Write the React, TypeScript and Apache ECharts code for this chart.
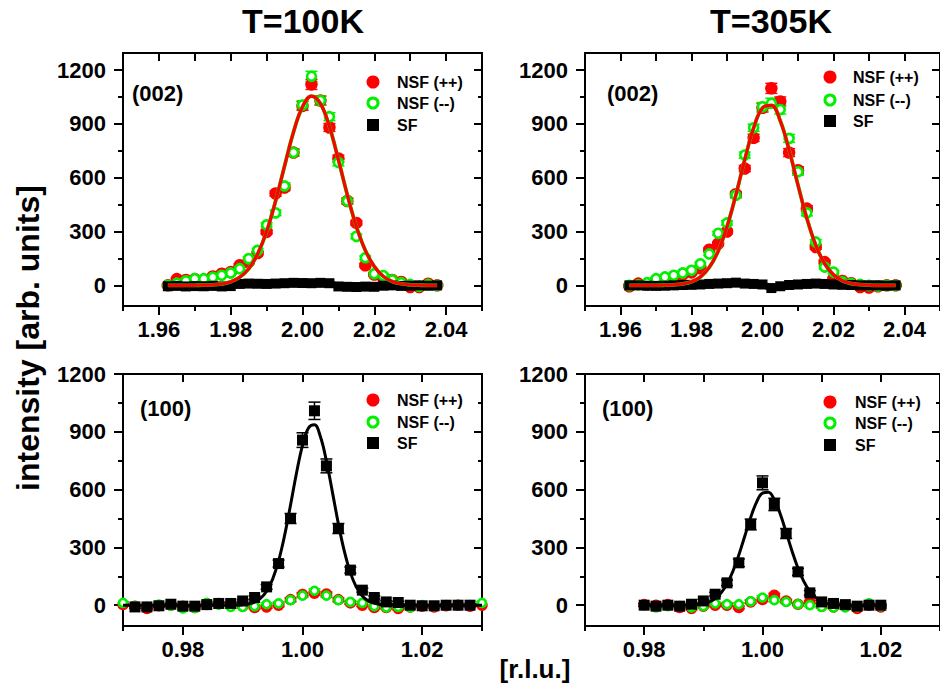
import React, { useEffect, useRef } from 'react';
import * as echarts from 'echarts';

const FONT = '"Liberation Sans", Arial, Helvetica, sans-serif';
const RED = '#ff0000';
const GREEN = '#00f000';
const BLACK = '#000000';

// ---------- tick labels ----------
const xTicksTop = [1.96, 1.98, 2.0, 2.02, 2.04];
const xMinorTop = [1.95, 1.97, 1.99, 2.01, 2.03, 2.05];
const xTicksBot = [0.98, 1.0, 1.02];
const xMinorBot = [0.97, 0.99, 1.01, 1.03];
const yTicks = [0, 300, 600, 900, 1200];
const yMinor = [150, 450, 750, 1050];

// ---------- (002) scans, both temperatures ----------
const xTop = [1.9625, 1.965, 1.9675, 1.97, 1.9725, 1.975, 1.9775, 1.98, 1.9825, 1.985, 1.9875, 1.99, 1.9925, 1.995, 1.9975, 2.0, 2.0025, 2.005, 2.0075, 2.01, 2.0125, 2.015, 2.0175, 2.02, 2.0225, 2.025, 2.0275, 2.03, 2.0325, 2.035, 2.0375];

// T=100K (002)
const nsfPlusTL = [0, 35, 30, 35, 28, 50, 65, 74, 112, 130, 180, 298, 512, 545, 740, 1000, 1120, 1030, 880, 707, 470, 348, 112, 60, 40, 30, 19, -9, -9, 9, 0];
const nsfMinusTL = [0, 12, 25, 37, 37, 45, 56, 69, 93, 149, 195, 337, 404, 554, 740, 1005, 1165, 1030, 940, 685, 470, 273, 154, 65, 55, 30, 15, 5, -5, 5, 0];
const sfTL = [-5, -3, -6, -4, -5, -3, -6, -4, 8, 10, 9, 8, 10, 12, 14, 13, 12, 14, 12, -6, -8, -9, -7, -8, -2, 0, -3, -2, 0, -2, 0];
const fitTL = [0, 0, 0, 0.5, 1, 3, 8, 20, 45, 92, 175, 300, 470, 665, 855, 995, 1055, 1013, 885, 700, 503, 328, 195, 105, 50, 22, 9, 3, 1, 0, 0];

// T=305K (002)
const nsfPlusTR = [-5, 10, 5, 12, 22, 50, 60, 72, 95, 199, 232, 300, 508, 651, 822, 990, 1098, 1025, 740, 642, 428, 214, 130, 37, 25, 12, -9, -12, -5, 0, 0];
const nsfMinusTR = [0, 3, 15, 37, 47, 56, 69, 84, 120, 175, 290, 348, 502, 726, 878, 995, 1015, 980, 819, 633, 404, 242, 102, 74, 20, 10, 5, 0, -3, 0, 0];
const sfTR = [0, 0, -2, -3, -2, 0, 2, 3, 5, 8, 10, 12, 15, 10, 8, 5, -15, -5, 2, 5, 8, 10, 8, 5, 3, 2, 0, 0, 0, -2, 0];
const fitTR = [0, 0, 0, 0, 1, 3, 8, 20, 47, 100, 190, 327, 504, 701, 877, 989, 1003, 917, 754, 559, 373, 224, 121, 59, 26, 10, 4, 1, 0, 0, 0];

const errTopNSF = [6, 6, 6, 6, 6, 6, 7, 7, 8, 9, 10, 12, 15, 17, 20, 24, 28, 25, 22, 19, 16, 13, 10, 8, 7, 6, 6, 6, 6, 6, 6];
const errTopSF = [5, 5, 5, 5, 5, 5, 5, 5, 5, 5, 5, 5, 5, 5, 5, 5, 5, 5, 5, 5, 5, 5, 5, 5, 5, 5, 5, 5, 5, 5, 5];

// ---------- T=100K (100) ----------
const xBL = [0.97, 0.972, 0.974, 0.976, 0.978, 0.98, 0.982, 0.984, 0.986, 0.988, 0.99, 0.992, 0.994, 0.996, 0.998, 1.0, 1.002, 1.004, 1.006, 1.008, 1.01, 1.012, 1.014, 1.016, 1.018, 1.02, 1.022, 1.024, 1.026, 1.028, 1.03];
const nsfPlusBL = [3, -5, -17, -3, 0, -5, -12, 3, 9, 3, -5, -12, -9, 0, 29, 55, 62, 58, 29, 12, 0, -12, -12, -17, -9, -5, -9, -3, 0, -5, 0];
const nsfMinusBL = [12, -5, -9, 3, -3, -17, -14, 12, 3, -9, -9, -5, 5, 9, 26, 50, 75, 50, 26, 17, 12, -5, -12, -9, -12, 0, -5, 0, 0, 0, 12];
const xBLsf = [0.972, 0.974, 0.976, 0.978, 0.98, 0.982, 0.984, 0.986, 0.988, 0.99, 0.992, 0.994, 0.996, 0.998, 1.0, 1.002, 1.004, 1.006, 1.008, 1.01, 1.012, 1.014, 1.016, 1.018, 1.02, 1.022, 1.024, 1.026, 1.028];
const sfBL = [-9, -9, -3, 5, -5, -5, 3, 9, 9, 22, 40, 95, 216, 450, 857, 1009, 723, 398, 182, 78, 40, 17, 14, 0, -3, -3, 0, 0, 0];
const xBLfit = [0.97, 0.98, 0.986, 0.988, 0.989, 0.99, 0.991, 0.992, 0.993, 0.994, 0.995, 0.996, 0.997, 0.998, 0.999, 1.0, 1.001, 1.002, 1.003, 1.004, 1.005, 1.006, 1.007, 1.008, 1.009, 1.01, 1.011, 1.012, 1.013, 1.014, 1.015, 1.016, 1.018, 1.022, 1.03];
const fitBL = [0, 0, 0, 0.3, 0.9, 2.5, 6.6, 16, 36, 72, 135, 230, 361, 520, 686, 830, 920, 936, 874, 748, 587, 422, 279, 169, 94, 48, 22, 9.6, 3.7, 1.4, 0.5, 0.1, 0, 0, 0];
const errBLsf = [6, 6, 6, 6, 6, 6, 6, 6, 6, 6, 8, 12, 18, 26, 38, 45, 36, 26, 16, 10, 8, 6, 6, 6, 6, 6, 6, 6, 6];
const errBLnsf = [7, 7, 7, 7, 7, 7, 7, 7, 7, 7, 7, 7, 7, 8, 9, 10, 10, 10, 9, 8, 7, 7, 7, 7, 7, 7, 7, 7, 7, 7, 7];

// ---------- T=305K (100) ----------
const xBR = [0.98, 0.982, 0.984, 0.986, 0.988, 0.99, 0.992, 0.994, 0.996, 0.998, 1.0, 1.002, 1.004, 1.006, 1.008, 1.01, 1.012, 1.014, 1.016, 1.018, 1.02];
const nsfPlusBR = [3, 0, 3, -12, -17, -5, 0, 0, -12, 17, 29, 52, 22, 5, 17, -5, -9, -5, -17, 0, -9];
const nsfMinusBR = [0, -12, -5, -5, -12, -5, 9, 5, 5, 20, 40, 26, 17, 5, 0, -9, -12, -12, -9, 9, -5];
const sfBR = [0, -5, 0, -5, 5, 22, 57, 116, 220, 419, 635, 523, 372, 173, 64, 17, 9, 3, -5, 0, 0];
const xBRfit = [0.98, 0.984, 0.986, 0.987, 0.988, 0.989, 0.99, 0.991, 0.992, 0.993, 0.994, 0.995, 0.996, 0.997, 0.998, 0.999, 1.0, 1.001, 1.002, 1.003, 1.004, 1.005, 1.006, 1.007, 1.008, 1.009, 1.01, 1.011, 1.012, 1.013, 1.014, 1.015, 1.016, 1.02];
const fitBR = [0, 0, 0.2, 0.5, 1.3, 3.3, 7.8, 17, 34, 64, 110, 176, 261, 358, 455, 535, 582, 586, 547, 473, 378, 280, 192, 122, 72, 39, 20, 9, 4, 1.6, 0.6, 0.2, 0, 0];
const errBRsf = [6, 6, 6, 6, 6, 8, 10, 14, 20, 28, 36, 32, 26, 18, 12, 8, 6, 6, 6, 6, 6];
const errBRnsf = [7, 7, 7, 7, 7, 7, 7, 7, 7, 8, 9, 9, 8, 7, 7, 7, 7, 7, 7, 7, 7];

const pairs = (xs: number[], ys: number[]) => xs.map((x, i) => [x, ys[i]]);
const triples = (xs: number[], ys: number[], es: number[]) => xs.map((x, i) => [x, ys[i], es[i]]);

type Panel = {
  grid: { left: number; top: number; width: number; height: number };
  xr: [number, number];
  yr: [number, number];
  xMaj: number[];
  xMin: number[];
  top: boolean;
  sizes: { red: number; ring: number; sq: number };
  x: number[];
  plus: number[];
  minus: number[];
  plusErr: number[];
  minusErr: number[];
  sfX: number[];
  sf: number[];
  sfErr: number[];
  fitX: number[];
  fit: number[];
};

const panels: Panel[] = [
  {
    grid: { left: 123, top: 53, width: 359, height: 253 },
    xr: [1.95, 2.05], yr: [-115, 1295], xMaj: xTicksTop, xMin: xMinorTop, top: true,
    sizes: { red: 12.5, ring: 9, sq: 10 },
    x: xTop, plus: nsfPlusTL, minus: nsfMinusTL, plusErr: errTopNSF, minusErr: errTopNSF,
    sfX: xTop, sf: sfTL, sfErr: errTopSF, fitX: xTop, fit: fitTL,
  },
  {
    grid: { left: 585, top: 53, width: 359, height: 253 },
    xr: [1.95, 2.05], yr: [-115, 1295], xMaj: xTicksTop, xMin: xMinorTop, top: true,
    sizes: { red: 12.5, ring: 9, sq: 10 },
    x: xTop, plus: nsfPlusTR, minus: nsfMinusTR, plusErr: errTopNSF, minusErr: errTopNSF,
    sfX: xTop, sf: sfTR, sfErr: errTopSF, fitX: xTop, fit: fitTR,
  },
  {
    grid: { left: 123, top: 374, width: 359, height: 252 },
    xr: [0.97, 1.03], yr: [-108, 1200], xMaj: xTicksBot, xMin: xMinorBot, top: false,
    sizes: { red: 11.5, ring: 8, sq: 11 },
    x: xBL, plus: nsfPlusBL, minus: nsfMinusBL, plusErr: errBLnsf, minusErr: errBLnsf,
    sfX: xBLsf, sf: sfBL, sfErr: errBLsf, fitX: xBLfit, fit: fitBL,
  },
  {
    grid: { left: 585, top: 374, width: 359, height: 252 },
    xr: [0.97, 1.03], yr: [-108, 1200], xMaj: xTicksBot, xMin: xMinorBot, top: false,
    sizes: { red: 11.5, ring: 8, sq: 11 },
    x: xBR, plus: nsfPlusBR, minus: nsfMinusBR, plusErr: errBRnsf, minusErr: errBRnsf,
    sfX: xBR, sf: sfBR, sfErr: errBRsf, fitX: xBRfit, fit: fitBR,
  },
];

const labelFont = { color: '#000', fontSize: 22, fontWeight: 'bold', fontFamily: FONT };
const frameLine = { show: true, onZero: false, lineStyle: { color: '#000', width: 2 } };
const noLine = { show: false, onZero: false };
const tickStyle = { color: '#000', width: 2 };

function buildAxes(p: Panel, g: number) {
  const bx = { type: 'value', gridIndex: g, min: p.xr[0], max: p.xr[1], splitLine: { show: false } };
  const by = { type: 'value', gridIndex: g, min: p.yr[0], max: p.yr[1], splitLine: { show: false } };
  const xAxes = [
    {
      ...bx, position: 'bottom', axisLine: frameLine,
      axisTick: { show: true, inside: false, length: 9, lineStyle: tickStyle, customValues: p.xMaj },
      axisLabel: { ...labelFont, show: true, margin: 12, customValues: p.xMaj, formatter: (v: number) => Number(v).toFixed(2) },
    },
    {
      ...bx, position: 'bottom', axisLine: noLine,
      axisTick: { show: true, inside: false, length: 5, lineStyle: tickStyle, customValues: p.xMin },
      axisLabel: { show: false },
    },
    {
      ...bx, position: 'top', axisLine: frameLine,
      axisTick: { show: true, inside: true, length: 8, lineStyle: tickStyle, customValues: [...p.xMaj, ...p.xMin] },
      axisLabel: { show: false },
    },
  ];
  const yAxes = [
    {
      ...by, position: 'left', axisLine: frameLine,
      axisTick: { show: true, inside: false, length: 9, lineStyle: tickStyle, customValues: yTicks },
      axisLabel: { ...labelFont, show: true, margin: 17, customValues: yTicks, formatter: (v: number) => String(Math.round(v)) },
    },
    {
      ...by, position: 'left', axisLine: noLine,
      axisTick: { show: true, inside: false, length: 5, lineStyle: tickStyle, customValues: yMinor },
      axisLabel: { show: false },
    },
    {
      ...by, position: 'right', axisLine: frameLine,
      axisTick: { show: true, inside: true, length: 8, lineStyle: tickStyle, customValues: yTicks },
      axisLabel: { show: false },
    },
    {
      ...by, position: 'right', axisLine: noLine,
      axisTick: { show: true, inside: true, length: 4, lineStyle: tickStyle, customValues: yMinor },
      axisLabel: { show: false },
    },
  ];
  return { xAxes, yAxes };
}

function errorSeries(data: number[][], color: string, xi: number, yi: number) {
  return {
    type: 'custom',
    xAxisIndex: xi,
    yAxisIndex: yi,
    silent: true,
    clip: true,
    encode: { x: 0, y: 1 },
    data,
    renderItem: (params: any, api: any) => {
      const x = api.value(0);
      const y = api.value(1);
      const e = api.value(2);
      const t = api.coord([x, y + e]);
      const b = api.coord([x, y - e]);
      const w = 6;
      const st = { stroke: color, lineWidth: 1.5 };
      return {
        type: 'group',
        children: [
          { type: 'line', shape: { x1: t[0], y1: t[1], x2: b[0], y2: b[1] }, style: st },
          { type: 'line', shape: { x1: t[0] - w, y1: t[1], x2: t[0] + w, y2: t[1] }, style: st },
          { type: 'line', shape: { x1: b[0] - w, y1: b[1], x2: b[0] + w, y2: b[1] }, style: st },
        ],
      };
    },
  };
}

function buildSeries(p: Panel, g: number) {
  const xi = g * 3;
  const yi = g * 4;
  const s: any[] = [];
  s.push(errorSeries(triples(p.x, p.plus, p.plusErr), RED, xi, yi));
  s.push({
    type: 'scatter', name: 'NSF (++)', xAxisIndex: xi, yAxisIndex: yi, symbol: 'circle', symbolSize: p.sizes.red,
    itemStyle: { color: RED, opacity: 1 }, data: pairs(p.x, p.plus), silent: true,
  });
  s.push(errorSeries(triples(p.x, p.minus, p.minusErr), GREEN, xi, yi));
  s.push({
    type: 'scatter', name: 'NSF (--)', xAxisIndex: xi, yAxisIndex: yi, symbol: 'circle', symbolSize: p.sizes.ring,
    itemStyle: { color: '#ffffff', borderColor: GREEN, borderWidth: 2.6, opacity: 1 }, data: pairs(p.x, p.minus), silent: true,
  });
  s.push(errorSeries(triples(p.sfX, p.sf, p.sfErr), BLACK, xi, yi));
  s.push({
    type: 'scatter', name: 'SF', xAxisIndex: xi, yAxisIndex: yi, symbol: 'rect', symbolSize: p.sizes.sq,
    itemStyle: { color: BLACK, opacity: 1 }, data: pairs(p.sfX, p.sf), silent: true,
  });
  if (p.top) {
    s.push({
      type: 'line', xAxisIndex: xi, yAxisIndex: yi, data: pairs(p.fitX, p.fit), smooth: 0.4, symbol: 'none',
      lineStyle: { color: GREEN, width: 3.8 }, silent: true,
    });
    s.push({
      type: 'line', xAxisIndex: xi, yAxisIndex: yi, data: pairs(p.fitX, p.fit), smooth: 0.4, symbol: 'none',
      lineStyle: { color: RED, width: 3.2 }, silent: true,
    });
  } else {
    s.push({
      type: 'line', xAxisIndex: xi, yAxisIndex: yi, data: pairs(p.fitX, p.fit), smooth: 0.4, symbol: 'none',
      lineStyle: { color: BLACK, width: 3 }, silent: true,
    });
  }
  return s;
}

function textEl(text: string, x: number, y: number, size: number, align: string, extra: any = {}) {
  return {
    type: 'text', x, y, ...extra,
    style: {
      text, fill: '#000', fontSize: size, fontWeight: 'bold', fontFamily: FONT,
      align, verticalAlign: 'middle', textAlign: align, textVerticalAlign: 'middle',
    },
  };
}

function legendEls(mx: number, tx: number, ys: number[]) {
  return [
    { type: 'circle', shape: { cx: mx, cy: ys[0], r: 6.5 }, style: { fill: RED } },
    { type: 'circle', shape: { cx: mx, cy: ys[1], r: 5 }, style: { fill: '#fff', stroke: GREEN, lineWidth: 3 } },
    { type: 'rect', shape: { x: mx - 6, y: ys[2] - 6, width: 12, height: 12 }, style: { fill: '#000' } },
    textEl('NSF (++)', tx, ys[0], 16, 'left'),
    textEl('NSF (--)', tx, ys[1], 16, 'left'),
    textEl('SF', tx, ys[2], 16, 'left'),
  ];
}

const App: React.FC = () => {
  const ref = useRef<HTMLDivElement>(null);
  useEffect(() => {
    if (!ref.current) return;
    const chart = echarts.init(ref.current, undefined, { renderer: 'svg' });
    const grids: any[] = [];
    const xAxis: any[] = [];
    const yAxis: any[] = [];
    const series: any[] = [];
    panels.forEach((p, g) => {
      grids.push({ ...p.grid, containLabel: false, show: false });
      const { xAxes, yAxes } = buildAxes(p, g);
      xAxis.push(...xAxes);
      yAxis.push(...yAxes);
      series.push(...buildSeries(p, g));
    });
    const graphic: any[] = [
      textEl('T=100K', 303, 21, 34, 'center'),
      textEl('T=305K', 771, 21, 34, 'center'),
      textEl('intensity [arb. units]', 28, 338, 32, 'center', { rotation: Math.PI / 2 }),
      textEl('[r.l.u.]', 535, 669, 26, 'center'),
      textEl('(002)', 132, 93, 22, 'left'),
      textEl('(002)', 607, 93, 22, 'left'),
      textEl('(100)', 140, 408, 22, 'left'),
      textEl('(100)', 602, 408, 22, 'left'),
      ...legendEls(373, 397, [82, 103, 125]),
      ...legendEls(830, 853, [77, 100, 121]),
      ...legendEls(373, 397, [400, 422, 443]),
      ...legendEls(830, 855, [402, 423, 445]),
    ];
    chart.setOption({
      animation: false,
      backgroundColor: '#ffffff',
      grid: grids,
      xAxis,
      yAxis,
      series,
      graphic,
    });
    return () => chart.dispose();
  }, []);
  return (
    <div
      ref={ref}
      style={{ position: 'absolute', left: 0, top: 0, width: 940, height: 687, background: '#fff' }}
    />
  );
};

export default App;
